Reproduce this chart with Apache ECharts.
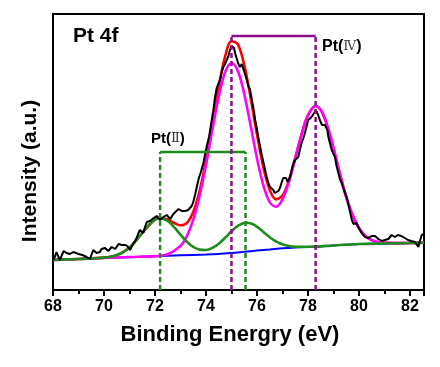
<!DOCTYPE html>
<html>
<head>
<meta charset="utf-8">
<script src="https://cdn.jsdelivr.net/npm/echarts@6/dist/echarts.min.js"></script>
<style>
html,body{margin:0;padding:0;background:#fff;}
#chart{width:440px;height:367px;}
</style>
</head>
<body>
<div id="chart"></div>
<script>
// Binding energy (eV) and intensity (a.u.)
const baseX = [68,70,72,73,74,74.5,75,75.5,76,76.5,77,77.5,78,78.5,79,79.5,80,81,82,82.55];
const baseY = [30,32,33.7,34.7,35.4,36,37,38.2,39.5,40.6,41.8,42.6,43.1,43.6,44.5,45.3,46,46.5,47,47.3];

const pt2X = [68,69,69.5,70,70.25,70.5,70.75,71,71.25,71.5,71.75,72,72.2,72.5,72.75,73,73.25,73.5,73.75,74,74.25,74.5,74.75,75,75.25,75.55,75.8,76.05,76.3,76.55,76.8,77.05,77.3,77.55,77.8,78.05,78.5,79,80,81,82,82.55];
const pt2Y = [30,31,31.5,32.4,33.2,34.9,37.7,42.5,49.2,57.1,64.8,70.3,71.8,69.0,62.8,55.3,48.2,43.1,40.4,40.0,42.1,46.3,52.2,58.7,64.2,67.3,66.2,62.4,57.0,51.8,47.8,45.2,43.8,43.2,43.1,43.2,43.6,44.5,46,46.5,47,47.3];

const pt4X = [68,70,71,72,72.5,73,73.25,73.5,73.75,74,74.25,74.5,74.75,75,75.25,75.5,75.75,76,76.25,76.5,76.75,77,77.25,77.5,77.75,78,78.3,78.55,78.8,79.05,79.3,79.55,79.8,80.05,80.3,80.55,80.8,81.3,82,82.55];
const pt4Y = [30,32,33,33.9,35.8,44.1,53.9,70.1,94.0,125.0,160.2,193.4,217.8,227.0,219.0,196.0,164.4,131.7,104.7,87.9,83.3,90.7,107.8,131.2,155.6,174.7,184.0,177.8,160.6,136.7,111.3,88.8,71.6,60.1,53.1,49.4,47.7,46.9,47,47.3];

const fitX = [68,69,70,70.5,71,71.5,72,72.2,72.5,72.75,73,73.25,73.5,73.75,74,74.25,74.5,74.75,75,75.25,75.5,75.75,76,76.25,76.5,76.75,77,77.25,77.5,77.75,78,78.3,78.55,78.8,79.05,79.3,79.55,79.8,80.05,80.3,80.55,80.8,81.3,82,82.55];
const fitY = [30,31,32.4,34.9,42.5,57.1,70.5,72.3,70.65,67.0,64.7,67.2,78.1,99.1,129.6,166.6,203.7,233.5,248.7,245.6,224.9,192.3,155.6,122.8,100.1,90.6,94.5,109.6,132.0,155.9,174.8,184.0,177.8,160.6,136.7,111.3,88.8,71.6,60.1,53.1,49.4,47.7,46.9,47,47.3];

const rawX = [68.00,68.07,68.14,68.2,68.27,68.35,68.42,68.47,68.53,68.6,68.67,68.74,68.8,68.9,69.0,69.06,69.15,69.24,69.32,69.38,69.45,69.52,69.58,69.65,69.71,69.78,69.84,69.9,69.97,70.04,70.1,70.17,70.24,70.3,70.37,70.44,70.5,70.57,70.63,70.7,70.76,70.85,70.95,71.02,71.08,71.15,71.22,71.28,71.35,71.41,71.48,71.54,71.62,71.68,71.74,71.8,71.87,71.95,72.02,72.07,72.14,72.2,72.26,72.33,72.4,72.46,72.53,72.6,72.65,72.72,72.8,72.85,72.92,72.98,73.05,73.11,73.18,73.24,73.3,73.37,73.44,73.5,73.57,73.64,73.72,73.8,73.9,73.98,74.05,74.12,74.2,74.29,74.35,74.42,74.5,74.55,74.62,74.68,74.75,74.81,74.88,74.94,75.0,75.05,75.1,75.15,75.2,75.27,75.33,75.4,75.46,75.53,75.6,75.66,75.73,75.8,75.86,75.93,75.99,76.05,76.12,76.18,76.25,76.32,76.38,76.45,76.51,76.58,76.64,76.7,76.77,76.84,76.9,76.96,77.03,77.09,77.14,77.2,77.23,77.3,77.36,77.42,77.49,77.55,77.62,77.68,77.75,77.82,77.88,77.95,78.01,78.08,78.14,78.2,78.24,78.31,78.36,78.4,78.45,78.5,78.55,78.6,78.66,78.71,78.76,78.8,78.87,78.93,79.0,79.06,79.12,79.19,79.25,79.32,79.4,79.45,79.52,79.58,79.65,79.72,79.78,79.85,79.91,79.97,80.04,80.1,80.17,80.24,80.3,80.37,80.43,80.5,80.57,80.63,80.7,80.76,80.83,80.9,80.95,81.02,81.08,81.15,81.22,81.28,81.35,81.41,81.47,81.53,81.6,81.66,81.72,81.8,81.86,81.92,81.99,82.05,82.12,82.2,82.26,82.33,82.4,82.46,82.52,82.55];
const rawY = [30,33,38,34,30,35,39,40,37,35,36,38,38,37,36,36,35,34,33,32,31,36,40,38,37,39,38,41,40,42,42,39,40,43,44,41,42,46,48,45,46,45,43,40,43,45,49,52,57,60,58,57,64,68,70,69,68,72,74,74,72,70,70,73,75,75,73,71,72,76,78,78,81,83,79,77,79,80,80,80,84,88,95,103,112,118,127,138,146,153,166,180,192,202,207,210,218,223,226,227,234,240,244,246,242,236,232,226,223,226,225,216,210,204,200,190,182,170,162,153,144,136,128,120,113,107,103,101,100,97,98,99,102,107,112,114,112,108,107,113,120,126,130,132,133,140,147,152,157,164,170,172,173,175,177,180,178,175,171,168,165,163,165,167,160,153,146,140,136,133,124,117,111,107,101,97,93,86,78,70,66,68,67,63,60,57,55,53,52,52,52,54,53,54,53,51,50,49,48,50,52,51,53,55,55,53,53,55,57,54,52,52,51,50,50,49,49,48,46,43,50,55,57,56];

// Peak positions (eV) and bracket levels
const pt2Centers = [72.2, 75.55];
const pt2Level = 138;
const pt4Centers = [75.0, 78.3];
const pt4Level = 254;

const zip = (xs, ys) => xs.map((x, i) => [x, ys[i]]);

const GREEN = '#1e8c1e', PURPLE = '#8b0f8b', MAGENTA = '#ff00ff', RED = '#ff0000', BLUE = '#0000ff';

function curve(name, xs, ys, color, width, z) {
  return { name, type: 'line', data: zip(xs, ys), smooth: 0.35, showSymbol: false, symbol: 'none',
    lineStyle: { color, width }, z, silent: true };
}
function seg(points, color, dashed, z) {
  return { type: 'line', data: points, showSymbol: false, symbol: 'none', silent: true,
    lineStyle: { color, width: 2.5, type: dashed ? [5, 3] : 'solid' }, z };
}

const series = [
  curve('Background', baseX, baseY, BLUE, 2, 2),
  curve('Fit', fitX, fitY, RED, 2.6, 3),
  curve('Pt(IV)', pt4X, pt4Y, MAGENTA, 2.6, 4),
  curve('Pt(II)', pt2X, pt2Y, GREEN, 2.6, 5),
  { type: 'line', data: zip(rawX, rawY), showSymbol: false, symbol: 'none', silent: true,
    lineStyle: { color: '#000', width: 2 }, z: 6 },
  seg([[pt2Centers[0], 0], [pt2Centers[0], pt2Level]], GREEN, true, 7),
  seg([[pt2Centers[1], 0], [pt2Centers[1], pt2Level]], GREEN, true, 7),
  seg([[pt2Centers[0], pt2Level], [pt2Centers[1], pt2Level]], GREEN, false, 7),
  seg([[pt4Centers[0], 0], [pt4Centers[0], pt4Level]], PURPLE, true, 8),
  seg([[pt4Centers[1], 0], [pt4Centers[1], pt4Level]], PURPLE, true, 8),
  seg([[pt4Centers[0], pt4Level], [pt4Centers[1], pt4Level]], PURPLE, false, 8)
];

const FONT = '"Liberation Sans", Arial, sans-serif';
const chart = echarts.init(document.getElementById('chart'), null, { renderer: 'canvas' });
chart.setOption({
  animation: false,
  backgroundColor: '#fff',
  grid: { left: 53, top: 14, right: 16, bottom: 77, show: true, borderColor: '#000', borderWidth: 2 },
  xAxis: {
    type: 'value', min: 68, max: 82.55, interval: 2,
    axisLine: { show: true, onZero: false, lineStyle: { color: '#000', width: 2 } },
    axisTick: { show: true, inside: false, length: 6, lineStyle: { color: '#000', width: 2 } },
    minorTick: { show: true, splitNumber: 2, length: 4, lineStyle: { color: '#000', width: 2 } },
    axisLabel: { color: '#000', fontSize: 16, fontWeight: 'bold', fontFamily: FONT, margin: 9, showMaxLabel: false },
    splitLine: { show: false }, minorSplitLine: { show: false }
  },
  yAxis: {
    type: 'value', min: 0, max: 276,
    axisLine: { show: true, lineStyle: { color: '#000', width: 2 } },
    axisTick: { show: false }, axisLabel: { show: false }, splitLine: { show: false }
  },
  series,
  graphic: [
    { type: 'text', left: 73, top: 26, style: { text: 'Pt 4f', font: 'bold 21px ' + FONT, fill: '#000' } },
    { type: 'text', x: 151, y: 139, style: {
        text: '{b|Pt(}{r|Ⅱ}{b|)}', verticalAlign: 'middle', align: 'left',
        rich: { b: { font: 'bold 15px ' + FONT, fill: '#000' }, r: { font: '13px "DejaVu Serif", serif', fill: '#333' } } } },
    { type: 'text', x: 322, y: 47, style: {
        text: '{b|Pt(}{r|Ⅳ}{b|)}', verticalAlign: 'middle', align: 'left',
        rich: { b: { font: 'bold 16px ' + FONT, fill: '#000' }, r: { font: '13px "DejaVu Serif", serif', fill: '#444' } } } },
    { type: 'text', x: 30, y: 171, rotation: Math.PI / 2, style: {
        text: 'Intensity (a.u.)', font: 'bold 21px ' + FONT, fill: '#000', align: 'center', verticalAlign: 'middle' } },
    { type: 'text', x: 230, y: 335, style: {
        text: 'Binding Energry (eV)', font: 'bold 22px ' + FONT, fill: '#000', align: 'center', verticalAlign: 'middle' } }
  ]
});
</script>
</body>
</html>
